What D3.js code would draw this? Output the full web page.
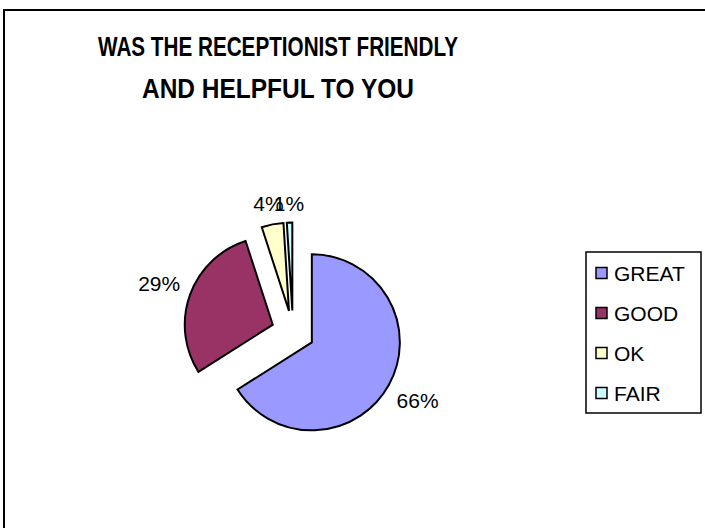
<!DOCTYPE html>
<html>
<head>
<meta charset="utf-8">
<script src="https://cdn.jsdelivr.net/npm/d3@7"></script>
<style>
  body { margin: 0; background: #fff; }
  text { font-family: "Liberation Sans", Arial, sans-serif; }
</style>
</head>
<body>
<div id="chart"></div>
<script>
// chart data
const categories = ["GREAT", "GOOD", "OK", "FAIR"];
const percents = [66, 29, 4, 1];
const titleLines = ["WAS THE RECEPTIONIST FRIENDLY", "AND HELPFUL TO YOU"];

const palette = ["#9999FF", "#993366", "#FFFFCC", "#CCFFFF"];

const width = 705, height = 528;

const svg = d3.select("#chart").append("svg")
  .attr("width", width)
  .attr("height", height);

// chart frame (runs off the right/bottom edge in the original)
svg.append("rect")
  .attr("x", 4).attr("y", 10)
  .attr("width", 800).attr("height", 600)
  .attr("fill", "none")
  .attr("stroke", "#000")
  .attr("stroke-width", 2);

// title
const titleY = [47, 89];
const titleLen = [360, 272];
svg.append("g").selectAll("text")
  .data(titleLines)
  .join("text")
  .attr("x", 278)
  .attr("y", (d, i) => titleY[i])
  .attr("text-anchor", "middle")
  .attr("dominant-baseline", "central")
  .attr("font-size", 27)
  .attr("font-weight", "bold")
  .attr("textLength", (d, i) => titleLen[i])
  .attr("lengthAdjust", "spacingAndGlyphs")
  .text(d => d);

// pie
const data = categories.map((c, i) => ({ name: c, value: percents[i], color: palette[i] }));
const radius = 88;
const explode = 21.5;
const labelGap = 10;
const cx = 293, cy = 332;

const pie = d3.pie().sort(null).value(d => d.value);
const arc = d3.arc().innerRadius(0).outerRadius(radius);

const arcs = pie(data);
const midAngle = d => (d.startAngle + d.endAngle) / 2;
const offset = d => [Math.sin(midAngle(d)) * explode, -Math.cos(midAngle(d)) * explode];

const pieGroup = svg.append("g").attr("transform", `translate(${cx},${cy})`);

const slices = pieGroup.selectAll("g.slice")
  .data(arcs)
  .join("g")
  .attr("class", "slice")
  .attr("transform", d => `translate(${offset(d)})`);

slices.append("path")
  .attr("d", arc)
  .attr("fill", d => d.data.color)
  .attr("stroke", "#000")
  .attr("stroke-width", 2)
  .attr("stroke-linejoin", "miter");

// labels sit just outside the rim, pushed out by half their own box size
slices.append("text")
  .attr("text-anchor", "middle")
  .attr("dominant-baseline", "central")
  .attr("font-size", 21)
  .text(d => d.data.value + "%")
  .each(function (d) {
    const box = this.getBBox();
    const a = midAngle(d);
    const ux = Math.sin(a), uy = -Math.cos(a);
    const dist = radius + labelGap + Math.abs(ux) * box.width / 2 + Math.abs(uy) * box.height / 2.6;
    d3.select(this).attr("transform", `translate(${ux * dist},${uy * dist})`);
  });

// legend
const legend = svg.append("g").attr("transform", "translate(586,252)");
legend.append("rect")
  .attr("width", 115).attr("height", 161)
  .attr("fill", "#fff")
  .attr("stroke", "#000")
  .attr("stroke-width", 1.5);

const legendY = d3.scalePoint().domain(categories).range([21, 141]);

const items = legend.selectAll("g.item")
  .data(data)
  .join("g")
  .attr("class", "item")
  .attr("transform", d => `translate(10,${legendY(d.name)})`);

items.append("rect")
  .attr("y", -5.5)
  .attr("width", 11).attr("height", 11)
  .attr("fill", d => d.color)
  .attr("stroke", "#000")
  .attr("stroke-width", 1.5);

items.append("text")
  .attr("x", 18)
  .attr("dominant-baseline", "central")
  .attr("font-size", 21)
  .text(d => d.name);
</script>
</body>
</html>
